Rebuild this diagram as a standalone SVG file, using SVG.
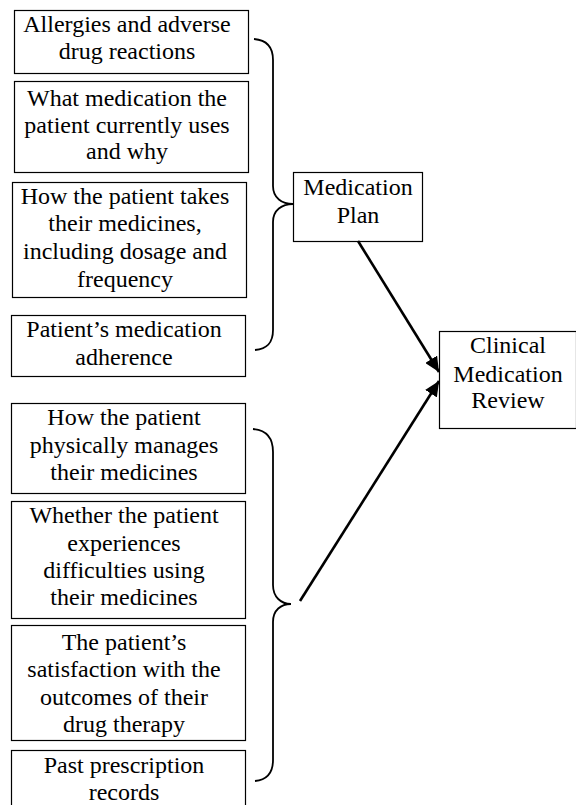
<svg xmlns="http://www.w3.org/2000/svg" width="576" height="805" viewBox="0 0 576 805" font-family="Liberation Serif, Tinos, Times New Roman, serif">
<style>
.box{fill:#fff;stroke:#000;stroke-width:1.2}
.t{font-size:24px;fill:#000;text-anchor:middle}
.brace{fill:none;stroke:#000;stroke-width:1.8}
.arrow{fill:none;stroke:#000;stroke-width:2.6}
</style>
<defs>
<marker id="ah" markerUnits="userSpaceOnUse" markerWidth="16" markerHeight="14" refX="15" refY="7" orient="auto">
<path d="M0,0 L15,7 L0,14 Z" fill="#000"/>
</marker>
</defs>
<g id="n1"><rect class="box" x="14.5" y="10.5" width="234" height="63"/>
<text class="t" x="127" y="32">Allergies and adverse</text><text class="t" x="127" y="59">drug reactions</text></g>
<g id="n2"><rect class="box" x="14.5" y="81.5" width="234" height="91"/>
<text class="t" x="127" y="106">What medication the</text><text class="t" x="127" y="133">patient currently uses</text><text class="t" x="127" y="159">and why</text></g>
<g id="n3"><rect class="box" x="12.5" y="182.5" width="234" height="115"/>
<text class="t" x="125" y="204">How the patient takes</text><text class="t" x="125" y="231">their medicines,</text><text class="t" x="125" y="259">including dosage and</text><text class="t" x="125" y="287">frequency</text></g>
<g id="n4"><rect class="box" x="11.5" y="315.5" width="234" height="61"/>
<text class="t" x="124" y="337">Patient’s medication</text><text class="t" x="124" y="365">adherence</text></g>
<g id="n5"><rect class="box" x="11.5" y="403.5" width="234" height="90"/>
<text class="t" x="124" y="425">How the patient</text><text class="t" x="124" y="453">physically manages</text><text class="t" x="124" y="480">their medicines</text></g>
<g id="n6"><rect class="box" x="11.5" y="501.5" width="234" height="117"/>
<text class="t" x="124" y="523">Whether the patient</text><text class="t" x="124" y="551">experiences</text><text class="t" x="124" y="578">difficulties using</text><text class="t" x="124" y="605">their medicines</text></g>
<g id="n7"><rect class="box" x="11.5" y="625.5" width="234" height="115"/>
<text class="t" x="124" y="650">The patient’s</text><text class="t" x="124" y="677">satisfaction with the</text><text class="t" x="124" y="705">outcomes of their</text><text class="t" x="124" y="732">drug therapy</text></g>
<g id="n8"><rect class="box" x="11.5" y="750.5" width="234" height="70"/>
<text class="t" x="124" y="773">Past prescription</text><text class="t" x="124" y="800">records</text></g>
<g id="plan"><rect class="box" x="293.5" y="172.5" width="129" height="69"/>
<text class="t" x="358" y="195">Medication</text><text class="t" x="358" y="223">Plan</text></g>
<g id="review"><rect class="box" x="439.5" y="331.5" width="137" height="97"/>
<text class="t" x="508" y="353">Clinical</text><text class="t" x="508" y="382">Medication</text><text class="t" x="508" y="408">Review</text></g>
<g id="connectors">
<path class="brace" d="M254,39 C266,40 273,46 273,60 L273,186 C273,198 282,204 293,204 C282,204 273,210 273,222 L273,330 C273,344 266,349 255,350"/>
<path class="brace" d="M253,429 C266,430 273,437 273,452 L273,585 C273,597 281,604 291,604 C281,604 273,610 273,622 L273,760 C273,774 266,780 255,781"/>
<line class="arrow" x1="358" y1="241" x2="439" y2="372" marker-end="url(#ah)"/>
<line class="arrow" x1="300" y1="601" x2="439" y2="381" marker-end="url(#ah)"/>
</g>
</svg>
